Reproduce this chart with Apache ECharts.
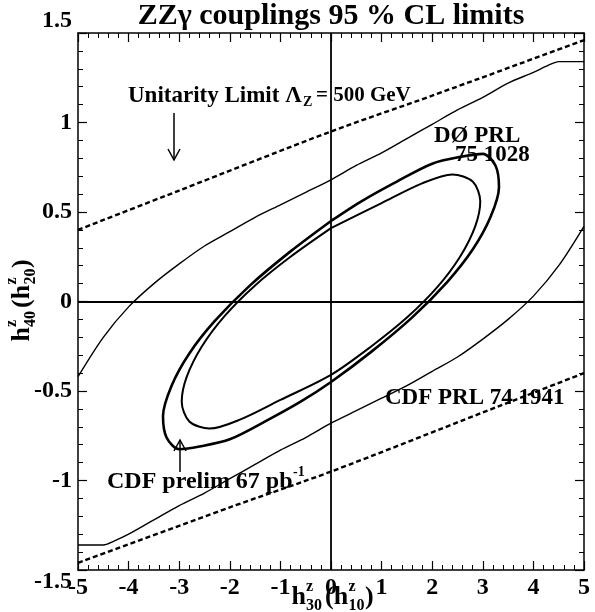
<!DOCTYPE html>
<html>
<head>
<meta charset="utf-8">
<script src="https://cdn.jsdelivr.net/npm/echarts/dist/echarts.min.js"></script>
<style>
html, body { margin: 0; padding: 0; background: #fff; }
.main { width: 595px; height: 612px; }
</style>
</head>
<body>
<div class="main"></div>
<script>
// values, in axis units (h30 on x, h40 on y)
var unitarityUpper = [[-5, 0.40], [-3, 0.62], [0, 0.95], [2, 1.15], [5, 1.46]];
var unitarityLower = [[-5, -1.46], [-2, -1.15], [0, -0.95], [3, -0.62], [5, -0.40]];

var cdfPrlUpper = [[-5, -0.42], [-4.5, -0.20], [-4, -0.03], [-3.5, 0.10], [-3, 0.21], [-2.5, 0.31],
    [-2, 0.39], [-1.5, 0.47], [-1, 0.54], [-0.5, 0.61], [0, 0.68], [0.5, 0.76], [1, 0.83],
    [1.5, 0.91], [2, 0.99], [2.5, 1.07], [3, 1.14], [3.5, 1.22], [4, 1.28], [4.3, 1.32], [4.5, 1.34], [5, 1.34]];
var cdfPrlLower = [[5, 0.42], [4.5, 0.20], [4, 0.03], [3.5, -0.10], [3, -0.21], [2.5, -0.31],
    [2, -0.39], [1.5, -0.47], [1, -0.54], [0.5, -0.61], [0, -0.68], [-0.5, -0.76], [-1, -0.83],
    [-1.5, -0.91], [-2, -0.99], [-2.5, -1.07], [-3, -1.14], [-3.5, -1.22], [-4, -1.30], [-4.3, -1.34], [-4.5, -1.36], [-5, -1.36]];

var contourOuter = [[0, 0.45], [-0.8, 0.28], [-1.6, 0.09], [-2.3, -0.11], [-2.8, -0.29], [-3.15, -0.47],
    [-3.32, -0.64], [-3.25, -0.76], [-3.0, -0.825], [-2.6, -0.81], [-2.0, -0.77], [-1.3, -0.67],
    [-0.6, -0.56], [0, -0.45], [0.8, -0.28], [1.6, -0.09], [2.3, 0.11], [2.8, 0.29], [3.15, 0.47],
    [3.32, 0.64], [3.25, 0.76], [3.0, 0.825], [2.6, 0.81], [2.0, 0.77], [1.3, 0.67], [0.6, 0.56], [0, 0.45]];
var contourInner = [[0, 0.41], [-0.8, 0.25], [-1.5, 0.09], [-2.1, -0.08], [-2.55, -0.25], [-2.85, -0.42],
    [-2.95, -0.56], [-2.8, -0.67], [-2.4, -0.71], [-1.8, -0.66], [-1.0, -0.55], [0, -0.41],
    [0.8, -0.25], [1.5, -0.09], [2.1, 0.08], [2.55, 0.25], [2.85, 0.42], [2.95, 0.56], [2.8, 0.67],
    [2.4, 0.71], [1.8, 0.66], [1.0, 0.55], [0, 0.41]];

var xRange = [-5, 5];
var yRange = [-1.5, 1.5];

var serif = '"Liberation Serif", "DejaVu Serif", serif';

var myChart = echarts.init(document.querySelector('.main'));

function frameAxis(pos, range, step, labels) {
    return {
        type: 'value', position: pos, min: range[0], max: range[1], interval: step,
        axisLine: { onZero: false, lineStyle: { color: '#000', width: 1.5 } },
        axisTick: { inside: true, length: 9, lineStyle: { color: '#000', width: 1.2 } },
        minorTick: { show: true, splitNumber: 5, length: 5, lineStyle: { color: '#000', width: 1 } },
        splitLine: { show: false },
        axisLabel: {
            show: labels, color: '#000', fontFamily: serif, fontWeight: 'bold', fontSize: 24, margin: 6,
            verticalAlignMaxLabel: pos == 'left' ? 'bottom' : null,
            verticalAlignMinLabel: pos == 'left' ? 'top' : null,
            formatter: function (v) { return String(+v.toFixed(1)); }
        }
    };
}

function curve(data, width, dashed) {
    return {
        type: 'line', data: data, symbol: 'none', smooth: 0.3, silent: true, animation: false,
        lineStyle: { color: '#000', width: width, type: dashed ? [5, 3] : 'solid' }
    };
}

// h^z_30 (h^z_10) style label with stacked super/subscripts
function hName(subA, subB) {
    var big = 'bold 26px ' + serif, small = 'bold 16px ' + serif;
    function t(x, y, s, f) {
        return { type: 'text', x: x, y: y, style: { text: s, font: f, fill: '#000', textAlign: 'left', textVerticalAlign: 'middle' } };
    }
    return [
        t(-41.5, 0, 'h', big), t(-27, -10, 'z', small), t(-27, 9, subA, small),
        t(-8, 0, '(h', big), t(15.5, -10, 'z', small), t(15.5, 9, subB, small),
        t(32, 0, ')', big)
    ];
}

function txt(x, y, s, size) {
    return { type: 'text', x: x, y: y, style: { text: s, font: 'bold ' + size + 'px ' + serif, fill: '#000', textAlign: 'left', textVerticalAlign: 'middle' } };
}

function arrow(x, y0, y1) {
    var d = y1 > y0 ? -11 : 11;
    return [
        { type: 'polyline', shape: { points: [[x, y0], [x, y1]] }, style: { stroke: '#000', lineWidth: 1.5, fill: null } },
        { type: 'polyline', shape: { points: [[x - 6, y1 + d], [x, y1], [x + 6, y1 + d]] }, style: { stroke: '#000', lineWidth: 1.5, fill: null } }
    ];
}

var zeroLine = curve([], 1);
zeroLine.markLine = {
    silent: true, symbol: 'none', label: { show: false }, animation: false,
    lineStyle: { color: '#000', width: 1.8, type: 'solid' },
    data: [{ xAxis: 0 }, { yAxis: 0 }]
};

option = {
    animation: false,
    grid: { left: 78, right: 11, top: 33, bottom: 42 },
    xAxis: [frameAxis('bottom', xRange, 1, true), frameAxis('top', xRange, 1, false)],
    yAxis: [frameAxis('left', yRange, 0.5, true), frameAxis('right', yRange, 0.5, false)],
    series: [
        zeroLine,
        curve(unitarityUpper, 2.4, true),
        curve(unitarityLower, 2.4, true),
        curve(cdfPrlUpper, 1.4),
        curve(cdfPrlLower, 1.4),
        curve(contourOuter, 2.6),
        curve(contourInner, 2)
    ],
    graphic: [
        { type: 'text', x: 331, y: 16, style: { text: 'ZZγ couplings 95 % CL limits', font: 'bold 30px ' + serif, fill: '#000', textAlign: 'center', textVerticalAlign: 'middle' } },
        { type: 'group', x: 333, y: 597, children: hName('30', '10') },
        { type: 'group', x: 22, y: 300, rotation: Math.PI / 2, children: hName('40', '20') },
        txt(128, 96, 'Unitarity Limit Λ', 23),
        txt(303, 102, 'Z', 14),
        txt(316, 96, '= 500 GeV', 21),
        txt(434, 136, 'DØ PRL', 23),
        txt(455, 155, '75 1028', 23),
        txt(385, 398, 'CDF PRL 74 1941', 23),
        txt(107, 482, 'CDF prelim 67 pb', 24),
        txt(293, 472, '-1', 14)
    ].concat(arrow(174, 113, 160), arrow(180, 472, 440))
};

myChart.setOption(option);
</script>
</body>
</html>
